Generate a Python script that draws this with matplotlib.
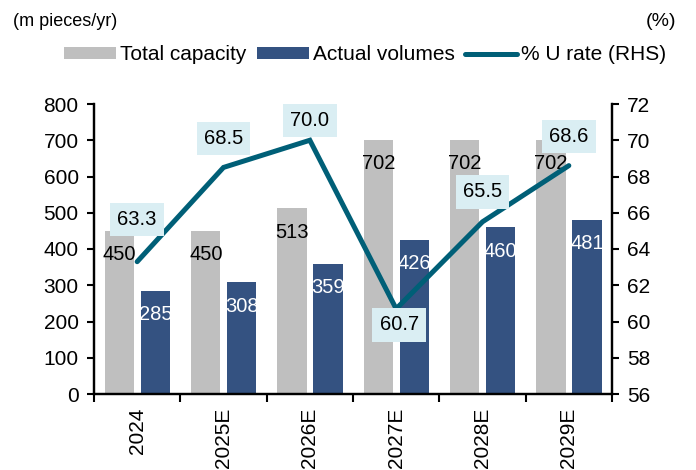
import numpy as np
import matplotlib.pyplot as plt

plt.rcParams['font.family'] = ['Liberation Sans', 'DejaVu Sans']

# data
years = ['2024', '2025E', '2026E', '2027E', '2028E', '2029E']
capacity = [450, 450, 513, 702, 702, 702]
volumes = [285, 308, 359, 426, 460, 481]
u_rate = [63.3, 68.5, 70.0, 60.7, 65.5, 68.6]

# label offsets for the % boxes (pixels, relative to the point)
box_dx = [0, 0, 0, 3, 0, 0]
box_dy = [42, 29, 20, -16, 30, 29]

gray = '#BFBFBF'
blue = '#345281'
teal = '#005F77'
box_bg = '#DAEEF3'

fig = plt.figure(figsize=(6.96, 4.70), dpi=100)
ax = fig.add_axes([94 / 696, 1 - 394 / 470, (612 - 94) / 696, (394 - 104) / 470])
ax2 = ax.twinx()

x = np.arange(len(years))
w = 0.34
b1 = ax.bar(x - 0.205, capacity, w, color=gray, label='Total capacity', zorder=2)
b2 = ax.bar(x + 0.21, volumes, w, color=blue, label='Actual volumes', zorder=2)

for xi, v in zip(x, capacity):
    ax.annotate(str(v), (xi - 0.205, v), xytext=(0, -24), textcoords='offset pixels',
                ha='center', va='center', fontsize=14.5, color='black', zorder=3)
for xi, v in zip(x, volumes):
    ax.annotate(str(v), (xi + 0.21, v), xytext=(0, -24), textcoords='offset pixels',
                ha='center', va='center', fontsize=14.5, color='white', zorder=3)

ln, = ax2.plot(x, u_rate, color=teal, lw=3.6, solid_capstyle='round',
               solid_joinstyle='miter', label='% U rate (RHS)', zorder=3)
for xi, v, dx, dy in zip(x, u_rate, box_dx, box_dy):
    ax2.annotate(f'{v:.1f}', (xi, v), xytext=(dx, dy), textcoords='offset pixels',
                 ha='center', va='center', fontsize=14.5, zorder=4,
                 bbox=dict(boxstyle='square,pad=0.36', fc=box_bg, ec='none'))

ax.set_ylim(0, 800)
ax.set_yticks(range(0, 801, 100))
ax2.set_ylim(56, 72)
ax2.set_yticks(range(56, 73, 2))
ax.set_xlim(-0.5, len(years) - 0.5)

# ticks at category boundaries, labels at centres
ax.set_xticks(np.arange(-0.5, len(years), 1.0))
ax.set_xticklabels([])
ax.set_xticks(x, minor=True)
ax.set_xticklabels(years, minor=True, rotation=90, fontsize=15)
ax.tick_params(axis='x', which='minor', length=0, pad=10)
ax.tick_params(axis='x', which='major', length=6, width=1.5, direction='out')
ax.tick_params(axis='y', length=5, width=1.5, labelsize=15, pad=6)
ax2.tick_params(axis='y', length=5, width=1.5, labelsize=15, pad=6)

for a in (ax, ax2):
    a.spines['top'].set_visible(False)
    for s in ('left', 'right', 'bottom'):
        a.spines[s].set_linewidth(1.6)

fig.text(13 / 696, 1 - 22 / 470, '(m pieces/yr)', fontsize=13, va='center', ha='left')
fig.text(676 / 696, 1 - 22 / 470, '(%)', fontsize=14, va='center', ha='right')

fig.legend([b1, b2, ln], ['Total capacity', 'Actual volumes', '% U rate (RHS)'],
           loc='center', bbox_to_anchor=(365 / 696, 1 - 55 / 470), ncol=3,
           frameon=False, fontsize=15, handlelength=2.5, handleheight=0.45,
           handletextpad=0.2, columnspacing=0.5, borderpad=0)

fig.savefig('out.png', dpi=100)
